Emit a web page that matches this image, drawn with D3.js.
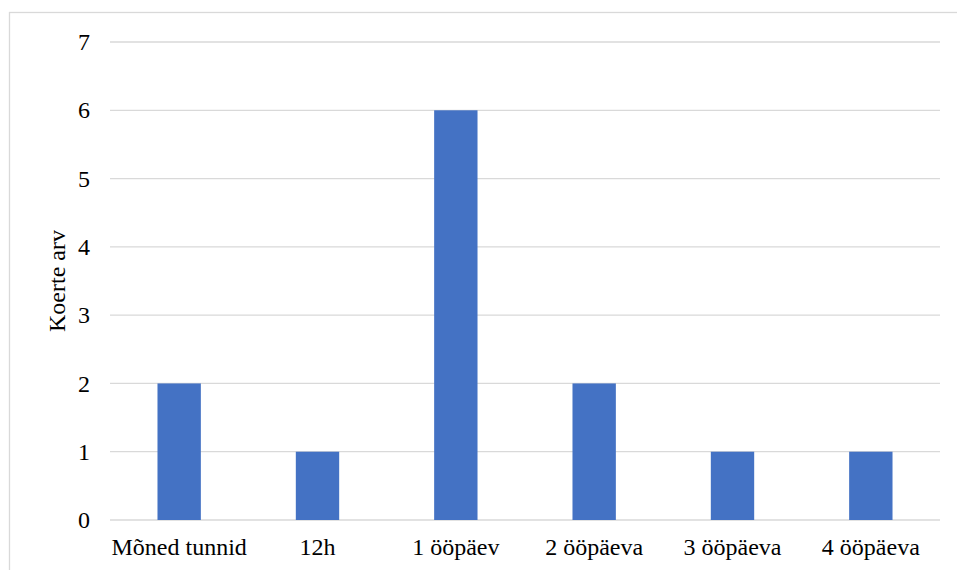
<!DOCTYPE html>
<html>
<head>
<meta charset="utf-8">
<script src="https://cdn.jsdelivr.net/npm/d3@7"></script>
<style>
  html, body { margin: 0; padding: 0; background: #ffffff; }
  svg { display: block; }
  svg text { font-family: "Times New Roman", "Liberation Serif", Times, serif; }
</style>
</head>
<body>
<svg id="chart" width="957" height="570"></svg>
<script>
// Kestus ja koerte arv
const categories = ["Mõned tunnid", "12h", "1 ööpäev", "2 ööpäeva", "3 ööpäeva", "4 ööpäeva"];
const counts = [2, 1, 6, 2, 1, 1];
const yTicks = [0, 1, 2, 3, 4, 5, 6, 7];
const yTitle = "Koerte arv";

const svg = d3.select("#chart");

// chart frame
svg.append("rect")
  .attr("x", 9.5).attr("y", 12.5)
  .attr("width", 960).attr("height", 570)
  .attr("fill", "none")
  .attr("stroke", "#d9d9d9")
  .attr("stroke-width", 1.3);

const plot = { left: 110, right: 940, top: 42, bottom: 520 };

const x = d3.scaleBand()
  .domain(categories)
  .range([plot.left, plot.right])
  .paddingInner(0.6865)
  .paddingOuter(0.34325);

const y = d3.scaleLinear()
  .domain([0, 7])
  .range([plot.bottom, plot.top]);

// horizontal gridlines
svg.append("g")
  .selectAll("line")
  .data(yTicks)
  .join("line")
  .attr("x1", plot.left).attr("x2", plot.right)
  .attr("y1", d => y(d)).attr("y2", d => y(d))
  .attr("stroke", "#d9d9d9")
  .attr("stroke-width", 1.3);

// y axis labels
const yAxis = d3.axisLeft(y).tickValues(yTicks).tickSize(0).tickPadding(0).tickFormat(d3.format("d"));
const gy = svg.append("g")
  .attr("transform", `translate(${plot.left - 20},0)`)
  .call(yAxis)
  .attr("font-family", null)
  .attr("font-size", null);
gy.select(".domain").remove();
gy.selectAll("text")
  .style("font-size", "24px")
  .attr("fill", "#000");

// bars
svg.append("g")
  .selectAll("rect")
  .data(counts)
  .join("rect")
  .attr("x", (d, i) => x(categories[i]))
  .attr("width", x.bandwidth())
  .attr("y", d => y(d))
  .attr("height", d => y(0) - y(d))
  .attr("fill", "#4472c4");

// x axis labels
const xAxis = d3.axisBottom(x).tickSize(0).tickPadding(0);
const gx = svg.append("g")
  .attr("transform", `translate(0,${plot.bottom})`)
  .call(xAxis)
  .attr("font-family", null)
  .attr("font-size", null);
gx.select(".domain").remove();
gx.selectAll("text")
  .style("font-size", "24px")
  .attr("fill", "#000")
  .attr("dy", null)
  .attr("y", 35);

// y axis title
svg.append("text")
  .attr("transform", `translate(65,${(plot.top + plot.bottom) / 2}) rotate(-90)`)
  .attr("text-anchor", "middle")
  .style("font-size", "24px")
  .attr("fill", "#000")
  .text(yTitle);
</script>
</body>
</html>
